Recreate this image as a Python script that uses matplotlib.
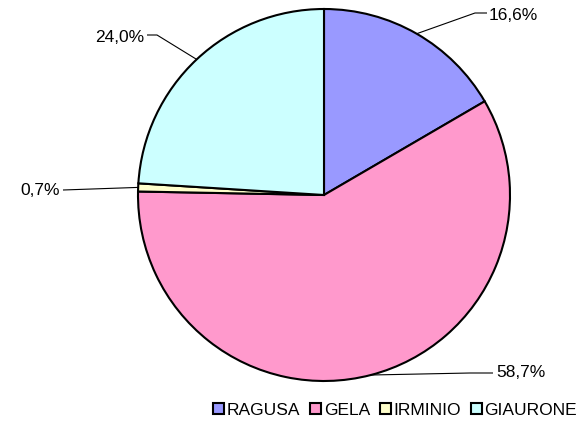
"""
Pie chart of shares by field
"""

import numpy as np
import matplotlib
matplotlib.use('Agg')
import matplotlib.pyplot as plt
from matplotlib.patches import Patch

names = ['RAGUSA', 'GELA', 'IRMINIO', 'GIAURONE']
shares = [16.6, 58.7, 0.7, 24.0]
labels = ['16,6%', '58,7%', '0,7%', '24,0%']
colors = ['#9999FF', '#FF99CC', '#FFFFCC', '#CCFFFF']

W, H = 577, 427


def py(y):
    # pixel row (from top) -> data y
    return H - y


plt.rcParams['font.family'] = ['Liberation Sans', 'DejaVu Sans']

fig = plt.figure(figsize=(W / 100, H / 100), dpi=100)
ax = fig.add_axes([0, 0, 1, 1])

cx, cy, r = 324, 196, 186
wedges, _ = ax.pie(shares, colors=colors, startangle=90, counterclock=False,
                   center=(cx, py(cy)), radius=r,
                   wedgeprops=dict(edgecolor='black', linewidth=1.5))
ax.set_xlim(0, W)
ax.set_ylim(0, H)
ax.set_aspect('auto')
ax.axis('off')

# leader lines: (elbow, end, text pos, ha)
leaders = [
    ((475, 14), (487, 14), (489, 15), 'left'),
    ((470, 374), (493, 374), (496, 373), 'left'),
    ((100, 190), (63, 191), (60, 191), 'right'),
    ((157, 36), (147, 36), (144, 37), 'right'),
]

for w, lab, (elb, end, tpos, ha) in zip(wedges, labels, leaders):
    ang = np.deg2rad((w.theta1 + w.theta2) / 2)
    ex = cx + r * np.cos(ang)
    ey = py(cy) + r * np.sin(ang)
    if lab == '0,7%':
        xs = [ex, end[0]]
        ys = [ey, py(end[1])]
    else:
        xs = [ex, elb[0], end[0]]
        ys = [ey, py(elb[1]), py(end[1])]
    ax.plot(xs, ys, color='black', lw=0.8, solid_capstyle='butt')
    ax.text(tpos[0], py(tpos[1]), lab, ha=ha, va='center', fontsize=12.5)

handles = [Patch(facecolor=c, edgecolor='black', linewidth=1.5) for c in colors]
fig.legend(handles, names, loc='center', bbox_to_anchor=(395 / W, 1 - 411 / H),
           ncol=4, frameon=False, fontsize=12.5, handlelength=0.65, handleheight=0.65,
           handletextpad=0.15, columnspacing=0.55, borderaxespad=0)

plt.savefig('out.png', dpi=100)
